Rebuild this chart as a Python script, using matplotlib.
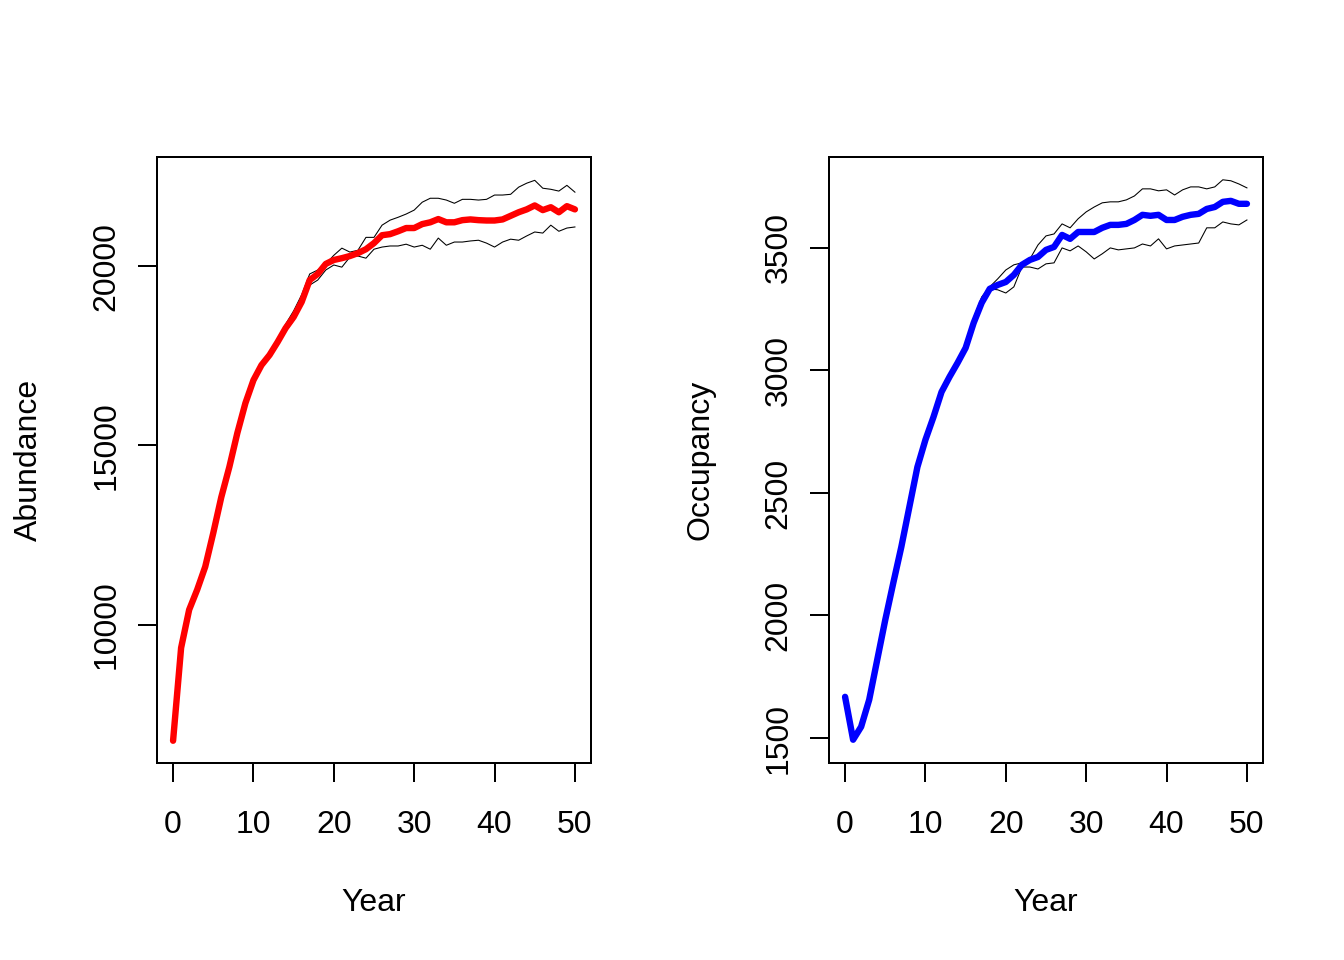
import matplotlib
matplotlib.use("Agg")
import matplotlib.pyplot as plt

plt.rcParams['font.family'] = ['Liberation Sans', 'DejaVu Sans']

years = list(range(0, 51))

# Abundance: mean with lower / upper band
abund_mean = [6770, 9360, 10420, 10980, 11620, 12560, 13560, 14400, 15350, 16180,
              16820, 17240, 17520, 17880, 18270, 18580, 19000, 19610, 19780, 20060,
              20170, 20220, 20280, 20360, 20470, 20640, 20860, 20890, 20970, 21060,
              21060, 21170, 21220, 21310, 21220, 21220, 21280, 21300, 21280, 21270,
              21270, 21300, 21400, 21500, 21580, 21690, 21560, 21640, 21500, 21670,
              21580]
abund_upper = [6800, 9400, 10450, 11020, 11660, 12600, 13610, 14450, 15400, 16230,
               16870, 17290, 17580, 17950, 18380, 18750, 19200, 19780, 19890, 20060,
               20300, 20500, 20390, 20440, 20800, 20800, 21140, 21280, 21360, 21450,
               21560, 21780, 21890, 21890, 21840, 21750, 21860, 21860, 21840, 21860,
               21980, 21980, 22000, 22200, 22310, 22390, 22170, 22140, 22090, 22250,
               22060]
abund_lower = [6740, 9320, 10380, 10940, 11580, 12520, 13520, 14360, 15300, 16130,
               16780, 17200, 17480, 17830, 18180, 18480, 18900, 19470, 19610, 19890,
               20030, 19970, 20250, 20280, 20220, 20470, 20530, 20560, 20560, 20610,
               20530, 20580, 20470, 20780, 20580, 20670, 20670, 20700, 20720, 20640,
               20530, 20670, 20750, 20720, 20840, 20950, 20920, 21140, 20970, 21060,
               21090]

# Occupancy: mean with lower / upper band
occ_mean = [1668, 1493, 1546, 1656, 1819, 1982, 2133, 2280, 2443, 2606,
            2717, 2810, 2912, 2974, 3031, 3092, 3194, 3276, 3333, 3349,
            3361, 3390, 3431, 3451, 3463, 3492, 3504, 3553, 3537, 3565,
            3565, 3565, 3582, 3594, 3594, 3598, 3614, 3635, 3631, 3635,
            3614, 3614, 3627, 3635, 3639, 3659, 3667, 3688, 3692, 3680,
            3680]
occ_upper = [1675, 1500, 1553, 1663, 1826, 1990, 2141, 2288, 2451, 2614,
             2725, 2818, 2920, 2983, 3040, 3104, 3215, 3300, 3341, 3374,
             3410, 3431, 3439, 3455, 3512, 3549, 3557, 3598, 3582, 3619,
             3647, 3667, 3684, 3688, 3688, 3696, 3712, 3741, 3741, 3733,
             3737, 3716, 3737, 3749, 3749, 3741, 3749, 3778, 3774, 3761,
             3745]
occ_lower = [1661, 1486, 1539, 1649, 1812, 1975, 2125, 2272, 2435, 2598,
             2709, 2802, 2904, 2966, 3022, 3080, 3180, 3262, 3333, 3329,
             3316, 3341, 3422, 3422, 3414, 3435, 3439, 3500, 3488, 3508,
             3484, 3455, 3476, 3500, 3492, 3496, 3500, 3516, 3508, 3537,
             3496, 3508, 3512, 3516, 3520, 3582, 3582, 3606, 3598, 3594,
             3614]

x_ticks = [0, 10, 20, 30, 40, 50]
abund_ticks = [10000, 15000, 20000]
occ_ticks = [1500, 2000, 2500, 3000, 3500]

W, H = 1344, 960
fig = plt.figure(figsize=(7, 5), dpi=192)


def panel(left_px, mean, lower, upper, color, ylabel, yticks, ylim):
    ax = fig.add_axes([left_px / W, 1 - 763 / H, 434 / W, 606 / H])
    ax.plot(years, lower, color='black', lw=0.4, zorder=2)
    ax.plot(years, upper, color='black', lw=0.4, zorder=2)
    ax.plot(years, mean, color=color, lw=2.4, solid_capstyle='round',
            solid_joinstyle='round', zorder=3)
    ax.set_xlim(-2, 52)
    ax.set_ylim(*ylim)
    ax.set_xticks(x_ticks)
    ax.set_yticks(yticks)
    ax.set_xticklabels([str(t) for t in x_ticks])
    ax.set_yticklabels([str(t) for t in yticks])
    for s in ax.spines.values():
        s.set_linewidth(0.75)
    ax.tick_params(axis='both', length=7.2, width=0.75, labelsize=12)
    ax.tick_params(axis='x', pad=10.5)
    ax.tick_params(axis='y', pad=6, labelrotation=90)
    plt.setp(ax.get_yticklabels(), va='center')
    ax.set_xlabel('Year', fontsize=12, labelpad=18)
    ax.set_ylabel(ylabel, fontsize=12, labelpad=18)
    return ax


panel(157, abund_mean, abund_lower, abund_upper, '#FF0000', 'Abundance',
      abund_ticks, (6150, 23040))
panel(829, occ_mean, occ_lower, occ_upper, '#0000FF', 'Occupancy',
      occ_ticks, (1398, 3871))

fig.savefig('out.png', dpi=192, facecolor='white')
